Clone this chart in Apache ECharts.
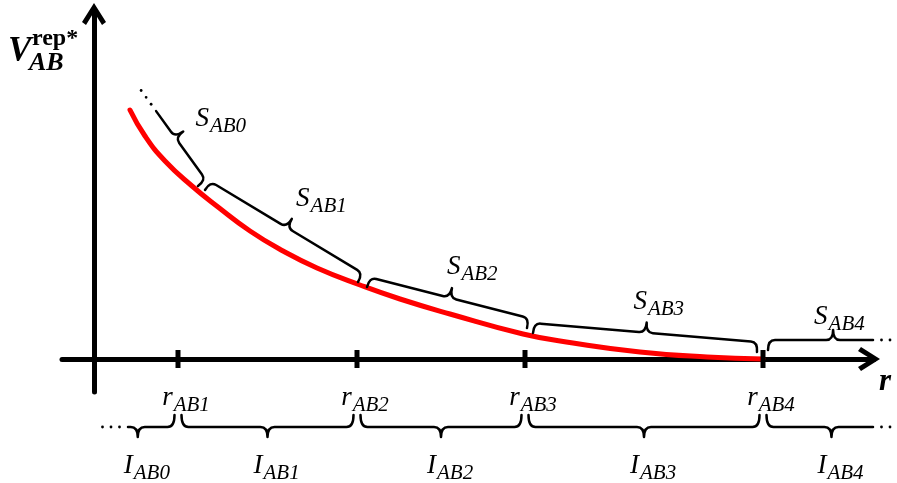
<!DOCTYPE html>
<html>
<head>
<meta charset="utf-8">
<script src="https://cdn.jsdelivr.net/npm/echarts@6/dist/echarts.min.js"></script>
<style>
  html, body { margin: 0; padding: 0; background: #fff; }
  #chart { width: 897px; height: 483px; }
</style>
</head>
<body>
<div id="chart"></div>
<script>
// Repulsive potential V_AB^rep* against separation r (arbitrary units)
const curveR = [3.6, 5.1, 7.1, 9.8, 12.4, 15.6, 18.9, 22.3, 26.6, 30.6, 35.6, 42.9, 47.9, 54.6, 61.3, 66.9];
const curveV = [24.9, 22.3, 19.8, 17.3, 15.2, 12.8, 10.8, 9.1, 7.4, 6.0, 4.5, 2.5, 1.6, 0.7, 0.2, 0.0];

// Knots r_AB1 .. r_AB4 on the r axis
const knotIds = ['AB1', 'AB2', 'AB3', 'AB4'];
const knotR = [8.4, 26.3, 43.1, 66.9];

// Curve pieces S_AB0 .. S_AB4, each from a start point to an end point [r, V]
const pieceIds = ['AB0', 'AB1', 'AB2', 'AB3', 'AB4'];
const pieceFrom = [[5.4, 24.2], [11.1, 16.9], [27.3, 7.2], [43.9, 2.6], [67.4, 0.9]];
const pieceTo = [[10.4, 17.3], [26.4, 7.7], [43.3, 3.1], [66.3, 0.7], [77.9, 0.9]];

// Intervals I_AB0 .. I_AB4 between the knots (first and last run on past the picture)
const intervalIds = ['AB0', 'AB1', 'AB2', 'AB3', 'AB4'];
const intervalFrom = [3.4].concat(knotR);
const intervalTo = knotR.concat([77.9]);

// ---- drawing settings ----
const FONT = '"Liberation Serif", "Times New Roman", serif';
const richMath = {
  m: { fontFamily: FONT, fontStyle: 'italic', fontSize: 27, lineHeight: 30, color: '#000' },
  s: { fontFamily: FONT, fontStyle: 'italic', fontSize: 21, lineHeight: 22, padding: [15, 0, 0, 1], color: '#000' }
};
const sub = (main, idx) => '{m|' + main + '}{s|' + idx + '}';

// brace look: where the tip sits along the span, which end trails off in dots, label nudge
const pieceShape = [
  { tip: 0.38, open: 'start', nudge: [-4, -1] },
  { tip: 0.5, nudge: [-6, -3] },
  { tip: 0.5, nudge: [-10, -2] },
  { tip: 0.5, nudge: [-15, -1] },
  { tip: 0.62, open: 'end', nudge: [-19, 7] }
];
const intervalShape = [
  { tip: 0.21, open: 'start' },
  { tip: 0.5 }, { tip: 0.5 }, { tip: 0.5 },
  { tip: 0.61, open: 'end' }
];

const CHEVRON = 'path://M12,0L24,19L20,22L12,9L4,22L0,19Z';

// Curly brace between two pixel points; side +1 bulges to the left of p1->p2, -1 to the right
function brace(p1, p2, side, o) {
  const dx = p2[0] - p1[0], dy = p2[1] - p1[1];
  const L = Math.hypot(dx, dy);
  const u = [dx / L, dy / L];
  const n = [side * u[1], -side * u[0]];
  const pt = (a, b) => [p1[0] + u[0] * a + n[0] * b, p1[1] + u[1] * a + n[1] * b];
  const f = p => p[0].toFixed(2) + ' ' + p[1].toFixed(2);
  const h1 = o.h1, h2 = o.h2, c = o.curl;
  const tm = o.tip * L;
  let d = o.open === 'start'
    ? 'M' + f(pt(0, h1))
    : 'M' + f(pt(0, 0)) + ' Q' + f(pt(0, h1)) + ' ' + f(pt(c, h1));
  d += ' L' + f(pt(tm - c, h1)) + ' Q' + f(pt(tm, h1)) + ' ' + f(pt(tm, h1 + h2));
  d += ' Q' + f(pt(tm, h1)) + ' ' + f(pt(tm + c, h1));
  d += o.open === 'end'
    ? ' L' + f(pt(L, h1))
    : ' L' + f(pt(L - c, h1)) + ' Q' + f(pt(L, h1)) + ' ' + f(pt(L, 0));
  const dots = [];
  for (let k = 1; k <= 3; k++) {
    if (o.open === 'start') dots.push(pt(-8.5 * k, h1));
    if (o.open === 'end') dots.push(pt(L + 8.5 * k, h1));
  }
  return { d, dots, tip: pt(tm, h1 + h2), n };
}

function braceGroup(b, label, lx, ly) {
  const children = [{
    type: 'path',
    shape: { pathData: b.d },
    style: { stroke: '#000', fill: 'none', lineWidth: 2.5, lineCap: 'round', lineJoin: 'round' }
  }];
  b.dots.forEach(p => children.push({
    type: 'circle', shape: { cx: p[0], cy: p[1], r: 1.4 }, style: { fill: '#000' }
  }));
  children.push({
    type: 'text', x: lx, y: ly,
    style: { text: label, rich: richMath, align: 'left', verticalAlign: 'middle', fill: '#000' }
  });
  return { type: 'group', children };
}

const chart = echarts.init(document.getElementById('chart'), null, { renderer: 'canvas' });

chart.setOption({
  animation: false,
  backgroundColor: '#fff',
  grid: { left: 62, right: 23, top: 11, bottom: 91, containLabel: false },
  xAxis: {
    type: 'value', min: -3.2, max: 78.0,
    axisLine: {
      show: true, onZero: true,
      lineStyle: { color: '#000', width: 5 },
      symbol: ['none', CHEVRON], symbolSize: [24, 22], symbolOffset: [0, -5]
    },
    axisTick: { show: false }, axisLabel: { show: false }, splitLine: { show: false }
  },
  yAxis: {
    type: 'value', min: -3.3, max: 34.8,
    axisLine: {
      show: true, onZero: true,
      lineStyle: { color: '#000', width: 5 },
      symbol: ['none', CHEVRON], symbolSize: [24, 22], symbolOffset: [0, -3]
    },
    axisTick: { show: false }, axisLabel: { show: false }, splitLine: { show: false }
  },
  graphic: [
    { type: 'text', x: 8, y: 52, style: { text: 'V', font: 'italic bold 35px ' + FONT, fill: '#000', align: 'left', verticalAlign: 'middle' } },
    { type: 'text', x: 32, y: 39, style: { text: 'rep*', font: 'bold 24px ' + FONT, fill: '#000', align: 'left', verticalAlign: 'middle' } },
    { type: 'text', x: 29, y: 63, style: { text: 'AB', font: 'italic bold 26px ' + FONT, fill: '#000', align: 'left', verticalAlign: 'middle' } },
    { type: 'text', x: 885, y: 382, style: { text: 'r', font: 'italic bold 31px ' + FONT, fill: '#000', align: 'center', verticalAlign: 'middle' } }
  ],
  series: [
    {
      type: 'line',
      data: curveR.map((r, i) => [r, curveV[i]]),
      smooth: 0.5,
      symbol: 'none',
      silent: true,
      lineStyle: { color: '#ff0000', width: 5, cap: 'round' },
      z: 3
    },
    {
      type: 'scatter',
      data: knotR.map(r => [r, 0]),
      symbol: 'rect',
      symbolSize: [5, 18],
      itemStyle: { color: '#000', opacity: 1 },
      silent: true,
      z: 4,
      label: {
        show: true, position: 'bottom', distance: 15, offset: [8, 0],
        formatter: p => sub('r', knotIds[p.dataIndex]),
        rich: richMath
      }
    },
    {
      type: 'custom',
      silent: true,
      z: 5,
      data: pieceFrom.map((a, i) => [a[0], a[1], pieceTo[i][0], pieceTo[i][1]]),
      encode: { x: [0, 2], y: [1, 3] },
      renderItem: (params, api) => {
        const i = params.dataIndex;
        const s = pieceShape[i];
        const p1 = api.coord([api.value(0), api.value(1)]);
        const p2 = api.coord([api.value(2), api.value(3)]);
        const b = brace(p1, p2, 1, { h1: 10, h2: 10, curl: 7, tip: s.tip, open: s.open });
        const lx = b.tip[0] + b.n[0] * 20 + s.nudge[0];
        const ly = b.tip[1] + b.n[1] * 20 + s.nudge[1];
        return braceGroup(b, sub('S', pieceIds[i]), lx, ly);
      }
    },
    {
      type: 'custom',
      silent: true,
      z: 5,
      data: intervalFrom.map((a, i) => [a, intervalTo[i], 0]),
      encode: { x: [0, 1], y: 2 },
      renderItem: (params, api) => {
        const i = params.dataIndex;
        const s = intervalShape[i];
        const gap = 3.5;
        const a = api.coord([api.value(0), 0]);
        const c = api.coord([api.value(1), 0]);
        const y = a[1] + 56;
        const x1 = s.open === 'start' ? a[0] : a[0] + gap;
        const x2 = s.open === 'end' ? c[0] : c[0] - gap;
        const b = brace([x1, y], [x2, y], -1, { h1: 12, h2: 10, curl: 7, tip: s.tip, open: s.open });
        return braceGroup(b, sub('I', intervalIds[i]), b.tip[0] - 14, b.tip[1] + 28.5);
      }
    }
  ]
});
</script>
</body>
</html>
